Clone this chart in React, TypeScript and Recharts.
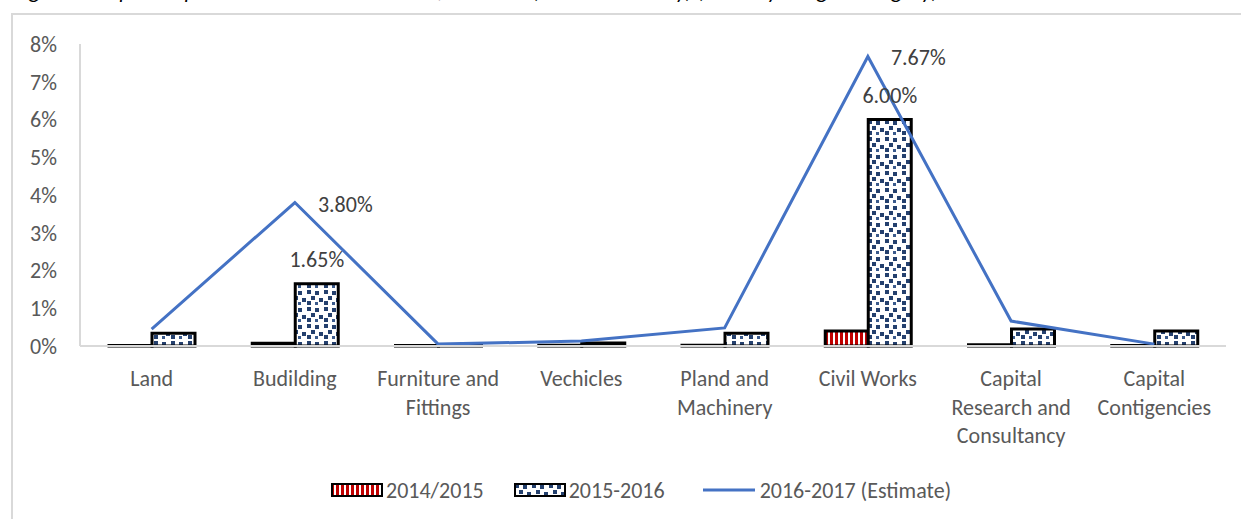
import React from "react";
import { Bar, ComposedChart, LabelList, Line, XAxis, YAxis } from "recharts";

const FONT = "Carlito, Lato, 'Open Sans', sans-serif";

const categories = [
  "Land",
  "Budilding",
  "Furniture and\nFittings",
  "Vechicles",
  "Pland and\nMachinery",
  "Civil Works",
  "Capital\nResearch and\nConsultancy",
  "Capital\nContigencies",
];
const share2014 = [0.01, 0.07, 0.01, 0.02, 0.02, 0.4, 0.03, 0.01];
const share2015 = [0.34, 1.65, 0.01, 0.08, 0.34, 6.0, 0.45, 0.4];
const estimate2016 = [0.45, 3.8, 0.05, 0.13, 0.48, 7.67, 0.66, 0.05];
const yTicks = [0, 1, 2, 3, 4, 5, 6, 7, 8];
const seriesNames = ["2014/2015", "2015-2016", "2016-2017 (Estimate)"];

const data = categories.map((name, i) => ({
  name,
  y2014: share2014[i],
  y2015: share2015[i],
  y2016: estimate2016[i],
}));

function Patterns({ prefix }: { prefix: string }) {
  return (
    <defs>
      <pattern id={`${prefix}-stripes`} width="5" height="5" patternUnits="userSpaceOnUse">
        <rect width="5" height="5" fill="#fff" />
        <rect width="3" height="5" fill="#C00000" />
      </pattern>
      <pattern id={`${prefix}-dots`} width="17" height="17" patternUnits="userSpaceOnUse">
        <rect width="17" height="17" fill="#fff" />
        <rect x="1" y="1" width="4" height="4" fill="#24406E" />
        <rect x="9" y="2" width="4" height="4" fill="#24406E" />
        <rect x="5" y="7" width="4" height="4" fill="#24406E" />
        <rect x="13" y="9" width="4" height="4" fill="#24406E" />
        <rect x="1" y="12" width="4" height="4" fill="#24406E" />
        <rect x="9" y="13" width="3" height="3" fill="#3A5A8C" />
      </pattern>
    </defs>
  );
}

function CategoryTick({ x, y, payload }: any) {
  const lines = String(payload.value).split("\n");
  return (
    <text x={x} y={y} textAnchor="middle" fill="#595959" fontSize={22} fontFamily={FONT}>
      {lines.map((l, i) => (
        <tspan key={i} x={x} dy={i === 0 ? 40 : 28.5}>
          {l}
        </tspan>
      ))}
    </text>
  );
}

function BarValue({ x, y, width, value }: any) {
  if (Number(value) < 1) return null;
  return (
    <text x={x + width / 2} y={y - 17} textAnchor="middle" fill="#404040" fontSize={22} fontFamily={FONT}>
      {Number(value).toFixed(2)}%
    </text>
  );
}

function LineValue({ x, y, value }: any) {
  if (Number(value) < 1) return null;
  return (
    <text x={x + 23} y={y + 9} textAnchor="start" fill="#404040" fontSize={22} fontFamily={FONT}>
      {Number(value).toFixed(2)}%
    </text>
  );
}

function LegendSwatch({ fill }: { fill: string }) {
  return (
    <svg width={52} height={14} style={{ display: "block" }}>
      <Patterns prefix="lg" />
      <rect x={1} y={1} width={50} height={12} fill={fill} stroke="#000" strokeWidth={2} />
    </svg>
  );
}

export default function App() {
  return (
    <div
      style={{
        position: "absolute",
        left: 0,
        top: 0,
        width: 1241,
        height: 519,
        overflow: "hidden",
        background: "#fff",
        fontFamily: FONT,
      }}
    >
      <div
        style={{
          position: "absolute",
          left: 14,
          top: -20,
          fontSize: 22,
          lineHeight: "22px",
          fontStyle: "italic",
          whiteSpace: "nowrap",
          color: "#000",
        }}
      >
        Figure 5: Capital Expenditure Items as a Share of the Total (Actual Summary) (Ministry Budget Category)
      </div>
      <div
        style={{
          position: "absolute",
          left: 11,
          top: 13,
          width: 1300,
          height: 600,
          border: "2px solid #D9D9D9",
        }}
      />
      <div style={{ position: "absolute", left: 0, top: 0 }}>
        <ComposedChart
          width={1241}
          height={519}
          data={data}
          margin={{ top: 44, right: 15, left: 0, bottom: 0 }}
          barGap={0}
        >
          <Patterns prefix="ch" />
          <XAxis
            dataKey="name"
            interval={0}
            height={173}
            tickLine={false}
            tickSize={0}
            tickMargin={0}
            axisLine={{ stroke: "#D9D9D9", strokeWidth: 2 }}
            tick={<CategoryTick />}
          />
          <YAxis
            width={80}
            domain={[0, 8]}
            ticks={yTicks}
            tickLine={false}
            tickSize={0}
            tickMargin={23}
            axisLine={{ stroke: "#D9D9D9", strokeWidth: 2 }}
            tickFormatter={(v) => `${v}%`}
            tick={{ fill: "#595959", fontSize: 22, fontFamily: FONT }}
          />
          <Bar
            dataKey="y2014"
            name={seriesNames[0]}
            fill="url(#ch-stripes)"
            stroke="#000"
            strokeWidth={3}
            barSize={43}
            isAnimationActive={false}
          />
          <Bar
            dataKey="y2015"
            name={seriesNames[1]}
            fill="url(#ch-dots)"
            stroke="#000"
            strokeWidth={3}
            barSize={43}
            isAnimationActive={false}
          >
            <LabelList dataKey="y2015" content={<BarValue />} />
          </Bar>
          <Line
            type="linear"
            dataKey="y2016"
            name={seriesNames[2]}
            stroke="#4472C4"
            strokeWidth={3}
            dot={false}
            activeDot={false}
            isAnimationActive={false}
          >
            <LabelList dataKey="y2016" content={<LineValue />} />
          </Line>
        </ComposedChart>
      </div>
      <div
        style={{
          position: "absolute",
          left: 331,
          top: 476,
          display: "flex",
          alignItems: "center",
          height: 28,
          fontSize: 22,
          color: "#595959",
          whiteSpace: "nowrap",
        }}
      >
        <LegendSwatch fill="url(#lg-stripes)" />
        <span style={{ marginLeft: 3, marginRight: 30 }}>{seriesNames[0]}</span>
        <LegendSwatch fill="url(#lg-dots)" />
        <span style={{ marginLeft: 3, marginRight: 38 }}>{seriesNames[1]}</span>
        <svg width={52} height={14} style={{ display: "block" }}>
          <line x1={0} y1={7} x2={52} y2={7} stroke="#4472C4" strokeWidth={3} />
        </svg>
        <span style={{ marginLeft: 5 }}>{seriesNames[2]}</span>
      </div>
    </div>
  );
}
